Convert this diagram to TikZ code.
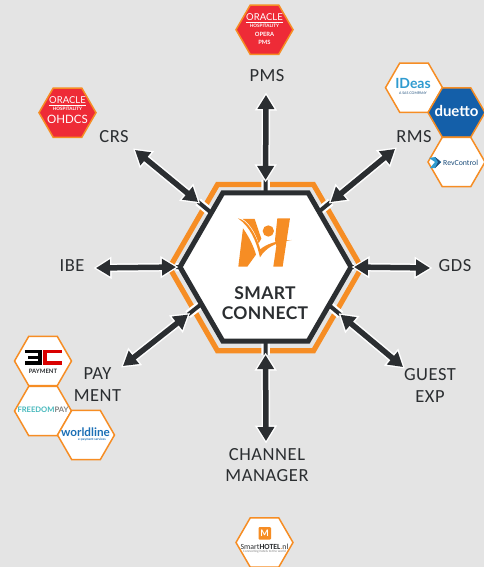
\documentclass[tikz,border=0pt]{standalone}
\usepackage{fontspec}
\setmainfont{Carlito}
\newfontfamily\latofont{Lato}
\newfontfamily\lblfont[LetterSpace=3]{Carlito}
\newfontfamily\titlefont[LetterSpace=2]{Lato}
\usetikzlibrary{shapes.geometric,arrows.meta,calc}
\pgfdeclarelayer{back}
\pgfsetlayers{back,main}
\definecolor{bgc}{HTML}{E4E4E4}
\definecolor{dark}{HTML}{2B2E31}
\definecolor{orng}{HTML}{F68D24}
\definecolor{oraclered}{HTML}{EE2B37}
\definecolor{duettoblue}{HTML}{145FA9}
\definecolor{ideasblue}{HTML}{2F9BD0}
\definecolor{teal}{HTML}{45B8BC}
\definecolor{wlblue}{HTML}{1B6FB5}
\definecolor{revblue}{HTML}{1D4E7C}
\tikzset{
  hexa/.style={regular polygon,regular polygon sides=6,inner sep=0pt,outer sep=0pt},
  hubhex/.style={hexa,minimum size=171pt,draw=dark,line width=5pt,fill=white},
  ringhex/.style={hexa,minimum size=192pt,draw=orng,line width=5.2pt},
  logohex/.style={hexa,minimum size=57pt,draw=orng,line width=1.5pt,fill=white},
  redhex/.style={logohex,fill=oraclered},
  bluehex/.style={logohex,fill=duettoblue},
  lbl/.style={text=dark,align=center,inner sep=0pt,font=\lblfont\fontsize{18.5}{21.5}\selectfont},
  tiny/.style={inner sep=0pt,align=center},
  linkhalo/.style={white,line width=8.5pt,{Triangle[length=18pt,width=21pt]}-{Triangle[length=18pt,width=21pt]}},
  linkarrow/.style={dark,line width=5.5pt,{Triangle[length=14pt,width=16pt]}-{Triangle[length=14pt,width=16pt]}},
  stubhalo/.style={white,line width=8.5pt},
  stubline/.style={dark,line width=4pt},
  x=1pt,y=-1pt
}
\begin{document}
\begin{tikzpicture}
\useasboundingbox (0,0) rectangle (484,567);
\begin{pgfonlayer}{back}
\fill[bgc] (0,0) rectangle (484,567);
\end{pgfonlayer}

% central hexagon
\node[hubhex] (hub) at (265.5,267) {};
\begin{pgfonlayer}{back}
\node[ringhex] (ring) at (265.5,267.7) {};
\end{pgfonlayer}

% logo
\begin{scope}[shift={(160,160)},x=0.3333pt,y=-0.3333pt]
\fill[orng] (235,320) -- (249,205) .. controls (268,232) and (282,262) .. (288,284) -- (262,320) -- cycle;
\fill[orng] (234,175) .. controls (260,180) and (285,215) .. (301,268) .. controls (318,252) and (355,240) .. (395,240)
  .. controls (350,246) and (318,262) .. (300,292) .. controls (288,240) and (270,200) .. (234,175) -- cycle;
\fill[orng] (248,177) -- (284,177) -- (304,236) -- (296,250) .. controls (285,215) and (268,190) .. (248,177) -- cycle;
\fill[orng] (352,175) -- (390,175) -- (368,320) -- (340,320) -- (349,258) -- (345,240) -- cycle;
\fill[orng] (325,213) circle (17);
\end{scope}

\node[inner sep=0pt,align=center,text=dark,font=\titlefont\bfseries\fontsize{17.5}{19.7}\selectfont] (title) at (265,303) {SMART\\CONNECT};

% labels
\node[lbl] (pms) at (267,76) {PMS};
\node[lbl] (crs) at (114,137) {CRS};
\node[lbl] (rms) at (414,137) {RMS};
\node[lbl] (ibe) at (72,266) {IBE};
\node[lbl] (gds) at (455,266) {GDS};
\node[lbl] (guest) at (430,385.5) {GUEST\\EXP};
\node[lbl] (pay) at (97.5,384.5) {PAY\\MENT};
\node[lbl] (chan) at (267,465) {CHANNEL\\MANAGER};

% connector free ends
\coordinate (fpms) at (266,95);
\coordinate (fcrs) at (135,150);
\coordinate (frms) at (395,149);
\coordinate (fibe) at (96,268);
\coordinate (fgds) at (430,268);
\coordinate (fguest) at (403,367);
\coordinate (fpay) at (123,366);
\coordinate (fchan) at (266,441);

\foreach \a/\f/\s in {90/fpms/13,135/fcrs/17,46/frms/15,180/fibe/4,0/fgds/3,-31/fguest/15,210/fpay/17,-90/fchan/14}{
  \begin{pgfonlayer}{back}
  \draw[stubhalo] (hub.\a) -- ($(hub.\a)!\s pt!(\f)$);
  \end{pgfonlayer}
  \draw[stubline] (hub.\a) -- ($(hub.\a)!\s pt!(\f)$);
  \draw[linkhalo,shorten <=-2.5pt,shorten >={(\s-2.5)*1pt}] (\f) -- (hub.\a);
  \draw[linkarrow,shorten >={\s*1pt}] (\f) -- (hub.\a);
}

% PMS logo
\node[redhex] (opera) at (264.5,29.7) {};
\node[tiny,text=white,font=\latofont\fontsize{9.5}{9}\selectfont] (oraclea) at (264.5,17.5) {ORACLE};
\draw[white,line width=0.8pt] (246,22.5) -- (282.5,22.5);
\node[tiny,text=white,font=\latofont\bfseries\fontsize{4.6}{5}\selectfont] (hospa) at (264.5,26) {HOSPITALITY};
\node[tiny,text=white,font=\latofont\bfseries\fontsize{5.8}{8}\selectfont] (opname) at (264.5,38) {OPERA\\PMS};

% CRS logo
\node[redhex] (ohdcs) at (67.5,112.7) {};
\node[tiny,text=white,font=\latofont\fontsize{9.5}{9}\selectfont] (oracleb) at (67.5,100.3) {ORACLE};
\draw[white,line width=0.8pt] (49,105.3) -- (85.5,105.3);
\node[tiny,text=white,font=\latofont\bfseries\fontsize{4.6}{5}\selectfont] (hospb) at (67.5,109) {HOSPITALITY};
\node[tiny,text=white,font=\latofont\fontsize{11.5}{12}\selectfont] (ohname) at (67.5,119) {OHDCS};

% RMS logos
\node[logohex] (ideas) at (414,87.7) {};
\node[tiny,text=ideasblue,font=\latofont\bfseries\fontsize{14}{14}\selectfont] (ideast) at (413,83.5) {IDeas};
\node[tiny,text=revblue,font=\latofont\fontsize{3.5}{4}\selectfont] (ideass) at (413,93.5) {A SAS COMPANY};
\node[bluehex] (duetto) at (456.5,112.5) {};
\node[tiny,text=white,font=\latofont\bfseries\fontsize{15}{15}\selectfont] (duettot) at (456.5,111) {duetto};
\node[logohex] (rev) at (456.5,162) {};
\fill[ideasblue] (429,158) -- (435,157) -- (441,162) -- (435,168) -- (430,168) -- (435,162) -- cycle;
\fill[revblue] (435,157) -- (441,162) -- (435,168) -- (438,162) -- cycle;
\node[tiny,text=revblue,font=\fontsize{7.8}{8}\selectfont,anchor=west] (revt) at (443,163) {RevControl};

% payment logos
\node[logohex] (threec) at (43,361) {};
\draw[black,line width=3.2pt] (24.5,351.5) -- (40,351.5) -- (40,363) -- (24.5,363);
\draw[black,line width=3pt] (28,357.3) -- (40,357.3);
\draw[red!85!black,line width=3.2pt] (61.5,351.5) -- (45,351.5) -- (45,363) -- (61.5,363);
\node[tiny,text=dark,font=\latofont\bfseries\fontsize{6}{6}\selectfont] (payt) at (43,371) {PAYMENT};
\node[logohex] (freedom) at (43,411) {};
\node[tiny,font=\latofont\bfseries\fontsize{7.6}{8}\selectfont] (freet) at (43,410) {\textcolor{teal}{FREEDOM}\textcolor{gray}{PAY}};
\node[logohex] (world) at (86,435) {};
\node[tiny,text=wlblue,font=\latofont\bfseries\fontsize{11.7}{12}\selectfont] (worldt) at (85.5,432) {worldline};
\node[tiny,text=wlblue,font=\latofont\bfseries\fontsize{3.2}{4}\selectfont] (worlds) at (92,439.5) {e-payment services};

% channel manager logo
\node[logohex] (smart) at (264.5,542.5) {};
\fill[orng,rounded corners=1pt] (258.5,527) rectangle (271,539.5);
\node[tiny,text=white,font=\latofont\bfseries\fontsize{9}{9}\selectfont] (smartm) at (264.7,533.3) {M};
\node[tiny,text=dark,font=\fontsize{7.8}{9}\selectfont] (smartt) at (264.5,546.5) {Smart\textbf{HOTEL}\textcolor{orng}{.}nl};
\node[tiny,text=gray,font=\fontsize{3.4}{4}\selectfont] (smarts) at (264.5,552) {Connecting hotels to the world};
\end{tikzpicture}
\end{document}
